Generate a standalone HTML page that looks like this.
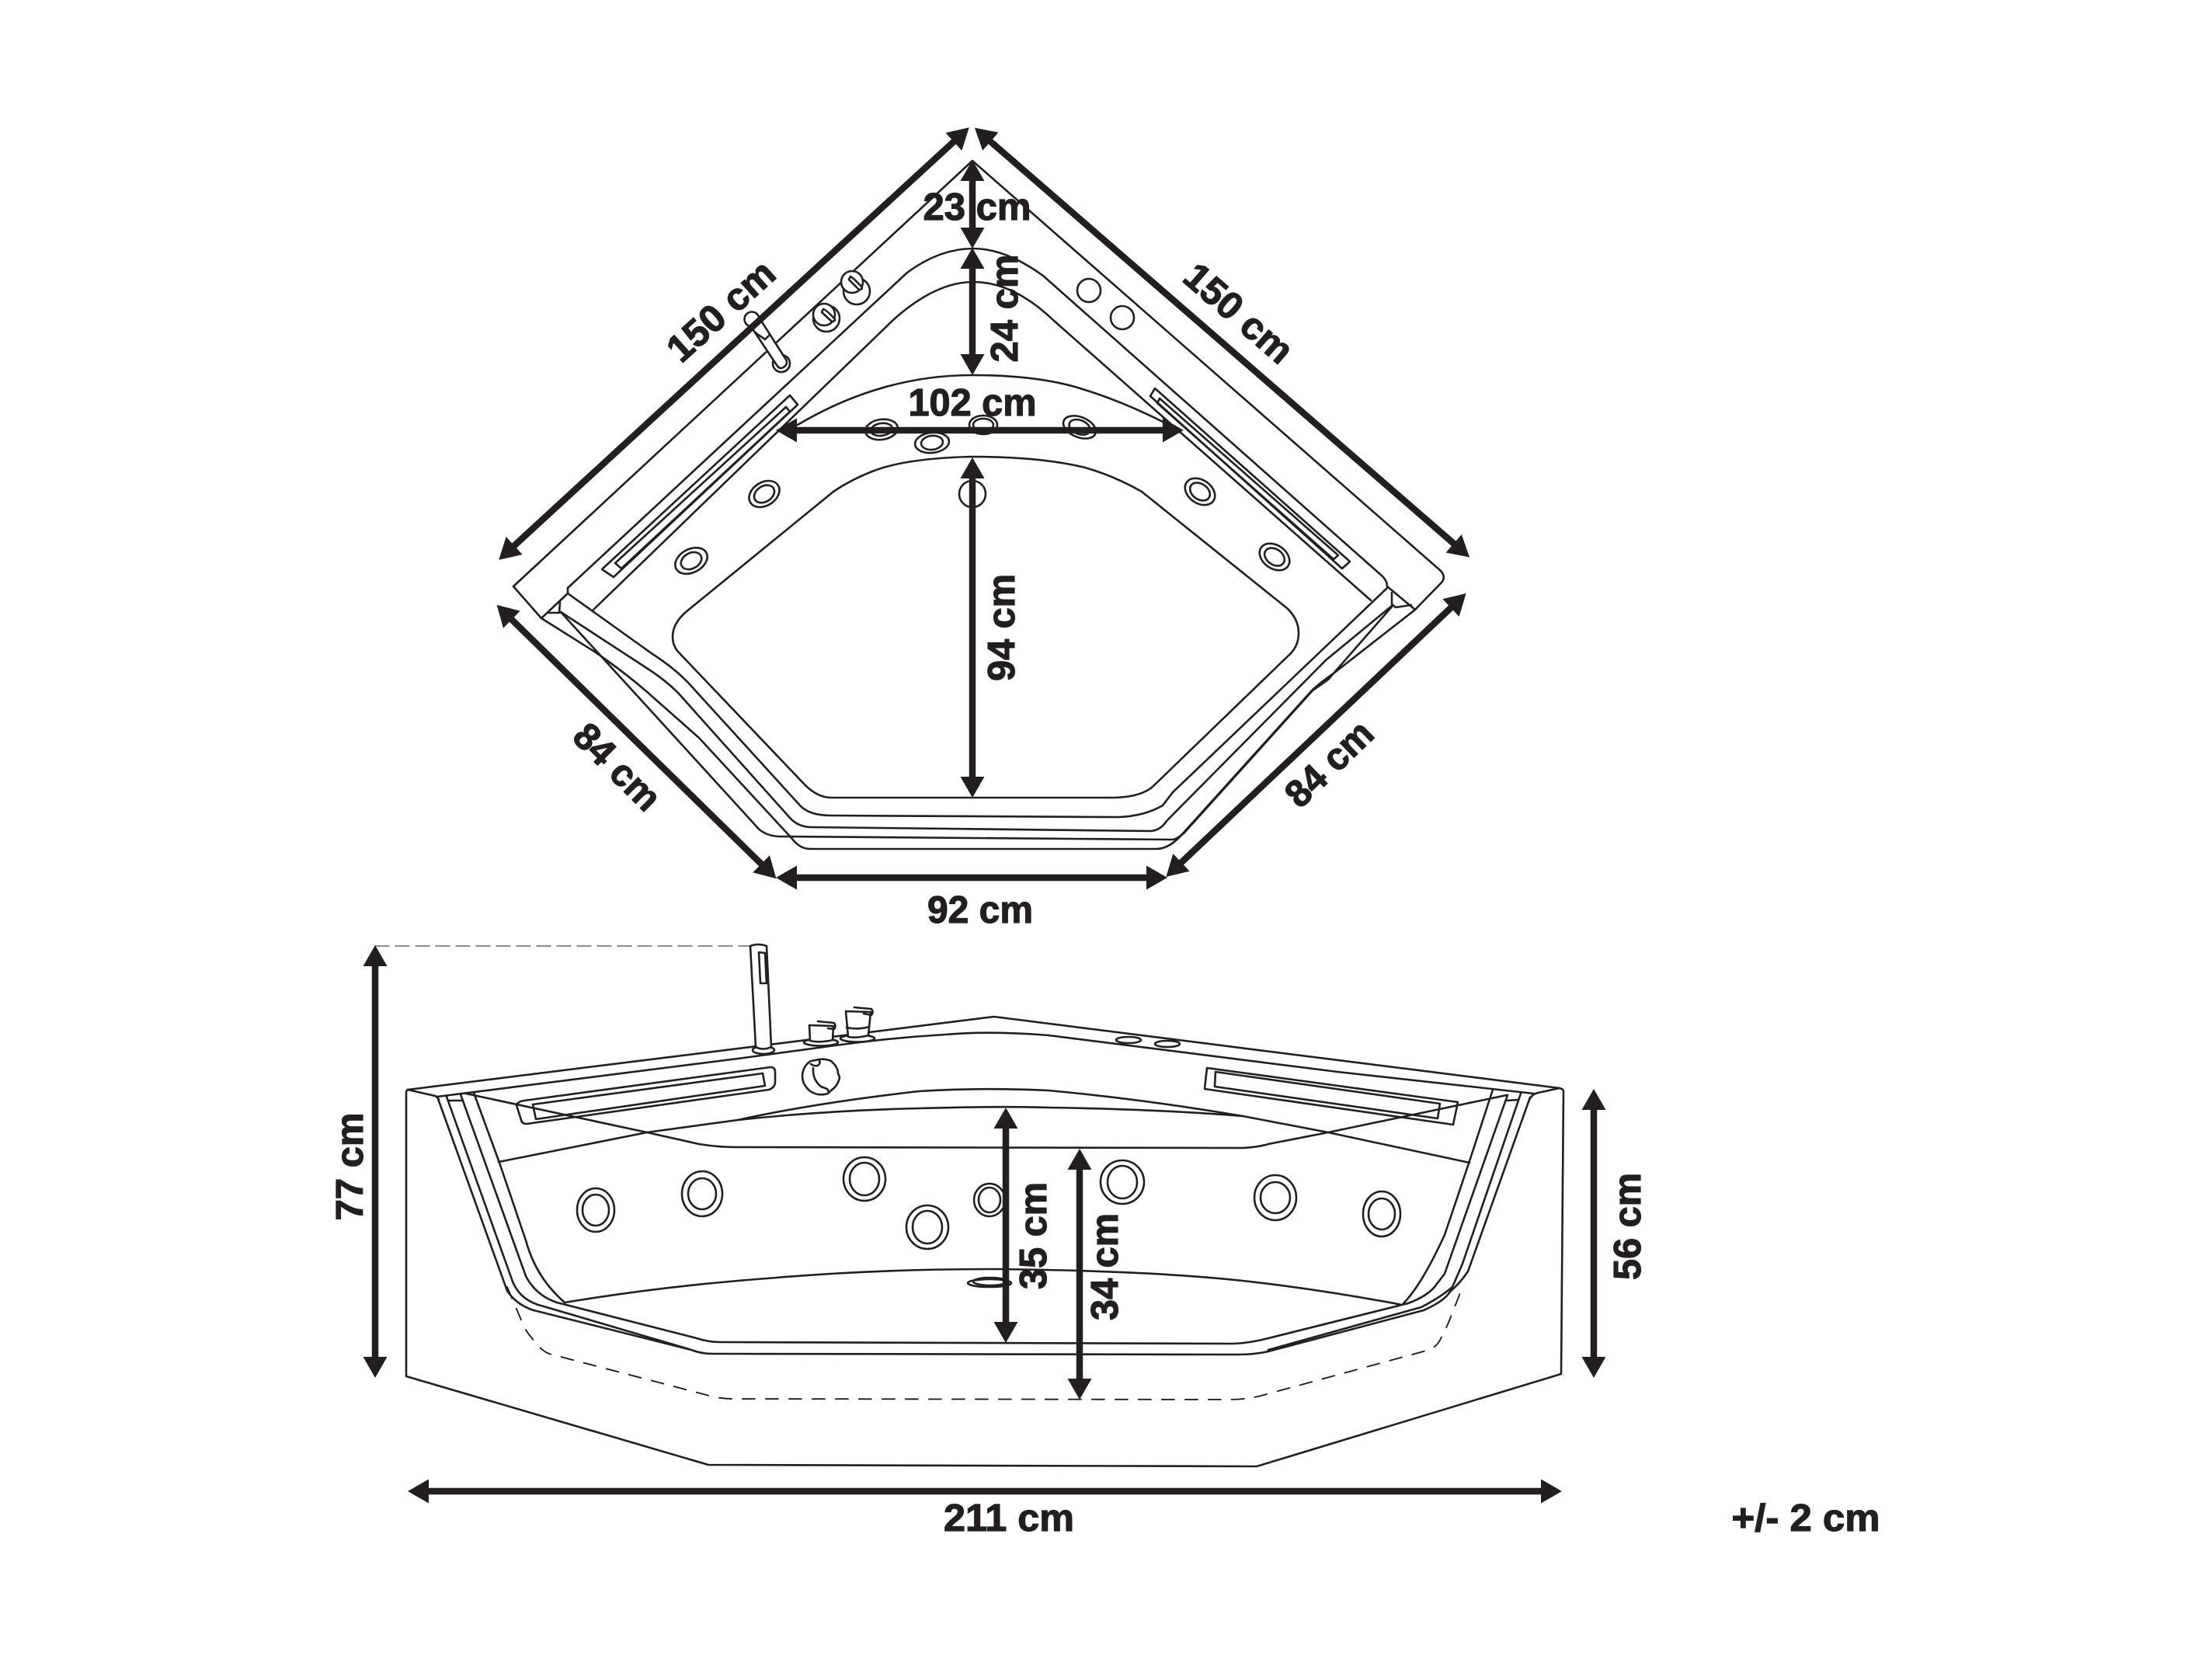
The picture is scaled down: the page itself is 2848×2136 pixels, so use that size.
<!DOCTYPE html>
<html>
<head>
<meta charset="utf-8">
<style>
html,body{margin:0;padding:0;background:#fff}
svg{display:block}
.l{fill:none;stroke:#231f20;stroke-width:2.600;stroke-linejoin:round;stroke-linecap:round}
.a{fill:none;stroke:#231f20;stroke-width:8.500;marker-start:url(#h);marker-end:url(#h)}
text{font-family:"Liberation Sans",sans-serif;font-weight:700;font-size:49px;fill:#231f20;stroke:#231f20;stroke-width:1.200;text-anchor:middle}
</style>
</head>
<body>
<svg width="2848" height="2136" viewBox="0 0 2848 2136" xmlns="http://www.w3.org/2000/svg">
<defs>
<marker id="h" markerUnits="userSpaceOnUse" markerWidth="50" markerHeight="40" viewBox="-20 -20 50 40" refX="0" refY="0" orient="auto-start-reverse">
<path d="M-11,-15.500 L16,0 L-11,15.500 Z" fill="#231f20"/>
</marker>
</defs>
<rect width="2848" height="2136" fill="#fff"/>

<!-- PLAN VIEW -->
<g class="l">
<path d="M661,755 L1252,207 L1855,735 Q1862,743 1856,750 L1822,785"/>
<path d="M661,755 L697,796"/>
<path d="M731,757 L1168,351 Q1210,320 1253,320 Q1295,320 1343,355 L1780,742 Q1786,748 1786,755"/>
<path d="M731,757 L731,764"/>
<path d="M763,786 L1151,411 Q1205,363 1253,363 Q1305,363 1357,413 L1765,773"/>
<path d="M1027,547 Q1135,483 1252,483 Q1340,483 1397,502 Q1445,517 1497,543"/>
<path d="M866,820 Q866,803 883,788 L1073,633 Q1095,618 1123,607 Q1165,590 1252,588 Q1340,588 1397,602 Q1435,613 1470,633 L1657,783 Q1672,797 1672,815 Q1672,832 1660,843 L1485,1012 Q1470,1026 1435,1027 L1069,1027 Q1050,1026 1033,1007 L872,838 Q866,830 866,820 Z"/>
<path d="M731,764 L840,842 Q868,860 887,880 L1030,1037 Q1042,1050 1070,1050 L1440,1052 Q1473,1051 1497,1037 L1510,1020 L1786,757"/>
<path d="M722,788 L837,863 Q858,877 873,892 L1017,1053 Q1028,1065 1045,1065 L1483,1070 Q1495,1068 1502,1057 L1707,850 L1792,780"/>
<path d="M722,788 L973,1063 Q983,1076 1003,1077 L1510,1081 Q1516,1080 1525,1072 L1690,889 Q1700,882 1710,875 L1793,780"/>
<path d="M697,796 L767,840 Q810,870 840,897 L900,950 L1020,1080 Q1030,1093 1043,1093 L1490,1093 Q1507,1092 1523,1073 L1690,888 Q1705,875 1717,867 L1822,785"/>
<path d="M697,796 L731,764"/>
<path d="M705,789 L720,789 L722,788 M721,775 L720,789"/>
<path d="M1786,755 L1822,785"/>
<path d="M1792,763 L1792,778 L1797,782 L1817,779"/>
<!-- slots -->
<path d="M1017,509 L1027,521 L790,743 L775,733 Z"/>
<path d="M1012,524 L1017,530 L800,732 L792,725 Z"/>
<path d="M1487,500 L1738,723 L1728,732 L1481,510 Z"/>
<path d="M1493,513 L1723,715 L1717,720 L1490,519 Z"/>
<!-- jets -->
<ellipse cx="1135" cy="553" rx="21" ry="13" transform="rotate(-8 1135 553)"/>
<ellipse cx="1135" cy="553" rx="14" ry="8" transform="rotate(-8 1135 553)"/>
<ellipse cx="1200" cy="570" rx="22" ry="13" transform="rotate(-6 1200 570)"/>
<ellipse cx="1200" cy="570" rx="14" ry="9" transform="rotate(-6 1200 570)"/>
<ellipse cx="1266" cy="547" rx="18" ry="12"/>
<ellipse cx="1266" cy="547" rx="13" ry="8"/>
<ellipse cx="1390" cy="550" rx="22" ry="13" transform="rotate(22 1390 550)"/>
<ellipse cx="1390" cy="550" rx="14" ry="9" transform="rotate(22 1390 550)"/>
<ellipse cx="984" cy="636" rx="21" ry="15" transform="rotate(-32 984 636)"/>
<ellipse cx="984" cy="636" rx="14" ry="10" transform="rotate(-32 984 636)"/>
<ellipse cx="890" cy="722" rx="22" ry="15" transform="rotate(-28 890 722)"/>
<ellipse cx="890" cy="722" rx="14" ry="10" transform="rotate(-28 890 722)"/>
<ellipse cx="1545" cy="633" rx="21" ry="15" transform="rotate(35 1545 633)"/>
<ellipse cx="1545" cy="633" rx="14" ry="10" transform="rotate(35 1545 633)"/>
<ellipse cx="1641" cy="717" rx="21" ry="15" transform="rotate(35 1641 717)"/>
<ellipse cx="1641" cy="717" rx="14" ry="10" transform="rotate(35 1641 717)"/>
<circle cx="1252" cy="636" r="17"/>
<circle cx="1402" cy="374" r="15"/>
<circle cx="1445" cy="409" r="15"/>
<!-- faucet + knobs -->
<circle cx="1006" cy="468" r="11" fill="#fff"/>
<path d="M968,422 L1000,470 Q1005,478 1012,470 Q1014,466 1012,463 L980,413 Z" fill="#fff"/>
<path d="M972,428 L985,437 L990,432"/>
<circle cx="968" cy="411" r="9.500" fill="#fff"/>
<circle cx="1103" cy="375" r="17" fill="#fff"/>
<circle cx="1097" cy="363" r="14" fill="#fff"/>
<path d="M1095,356 Q1098,357 1110,370 Q1110,373 1106,373 L1093,360 Z" fill="#fff"/>
<circle cx="1064" cy="410" r="17" fill="#fff"/>
<circle cx="1061" cy="405" r="14" fill="#fff"/>
<path d="M1060,398 Q1063,398 1075,411 Q1075,414 1071,414 L1058,402 Z" fill="#fff"/>
</g>

<!-- PLAN ARROWS -->
<line class="a" x1="654" y1="710" x2="1236" y2="175"/>
<line class="a" x1="1267" y1="175" x2="1880" y2="707"/>
<line class="a" x1="651" y1="790" x2="988" y2="1120"/>
<line class="a" x1="1876" y1="775" x2="1513" y2="1118"/>
<line class="a" x1="1015" y1="1130" x2="1487" y2="1130"/>
<line class="a" x1="1252" y1="222" x2="1252" y2="304"/>
<line class="a" x1="1252" y1="335" x2="1252" y2="467"/>
<line class="a" x1="1015" y1="554" x2="1508" y2="554"/>
<line class="a" x1="1252" y1="605" x2="1252" y2="1011"/>

<!-- FRONT VIEW -->
<g class="l">
<path d="M483,1218 L968,1218" style="stroke:#666;stroke-width:1.500" stroke-dasharray="18 8"/>
<path d="M525,1403 Q523,1404 523,1407 L523,1772 L912,1886 L1618,1888 L2010,1769 L2013,1405 Q2013,1402 2008,1401 L1280,1309 L525,1403"/>
<path d="M525,1403 L560,1411 Q563,1412 565,1416"/>
<path d="M2008,1401 L1980,1407 Q1972,1409 1969,1416"/>
<path d="M563,1412 L950,1363 L1083,1345 Q1150,1336 1217,1332 Q1277,1327 1350,1333 L1722,1380 L1975,1408"/>
<path d="M563,1412 L653,1662 Q665,1680 687,1687 L890,1738 Q903,1743 917,1743 L1595,1744 Q1615,1744 1633,1740 L1833,1687 Q1860,1675 1867,1663 Q1880,1652 1890,1637 L1970,1413"/>
<path d="M575,1412 L660,1650 Q670,1675 700,1682 L887,1737"/>
<path d="M1633,1738 L1830,1683 Q1855,1670 1870,1657 L1883,1627 L1958,1408"/>
<path d="M593,1409 L677,1643 Q690,1668 717,1677 L897,1723 Q912,1728 927,1728 L1589,1730 Q1610,1729 1633,1723 L1805,1680 L1813,1678 Q1840,1668 1850,1653 L1860,1640 L1941,1410"/>
<path d="M610,1407 L643,1497 L677,1597 Q690,1645 727,1677"/>
<path d="M1807,1678 Q1830,1655 1860,1590 L1892,1495 L1922,1403"/>
<path d="M577,1417 L595,1417 M1940,1417 L1955,1416"/>
<path d="M642,1496 L833,1458 L950,1442 Q1050,1420 1183,1405 Q1267,1400 1350,1404 Q1470,1415 1600,1437 L1710,1458 L1892,1497"/>
<path d="M950,1442 Q1060,1430 1183,1427 Q1290,1424 1350,1426 Q1490,1428 1600,1437"/>
<path d="M600,1408 L833,1458 L900,1473 Q925,1477 947,1477 L1600,1478 Q1620,1477 1633,1473 L1710,1458 L1940,1410"/>
<path d="M727,1677 Q860,1655 1000,1645 Q1130,1634 1280,1634 Q1480,1636 1600,1649 Q1700,1660 1805,1680"/>
<path d="M653,1657 L670,1697 Q675,1712 685,1723 Q695,1738 707,1743 L917,1798 Q930,1801 942,1801 L1583,1802 Q1600,1802 1620,1798 L1840,1738 Q1848,1735 1853,1727 Q1860,1715 1867,1698 L1883,1657" stroke-dasharray="16 14" style="stroke-width:1.900"/>
<!-- slots -->
<path d="M665,1423 Q667,1418 675,1417 L992,1374 Q998,1374 998,1380 L998,1393 Q998,1400 990,1403 L678,1447 Q672,1447 671,1442 Z"/>
<path d="M686,1422 L982,1382 L985,1398 L690,1441 Z"/>
<path d="M1554,1375 L1877,1419 L1871,1448 L1551,1402 Z"/>
<path d="M1565,1380 L1854,1421 L1851,1440 L1564,1399 Z"/>
<!-- jets -->
<ellipse cx="767" cy="1558" rx="24" ry="28"/><ellipse cx="767" cy="1558" rx="17" ry="20"/>
<ellipse cx="904" cy="1537" rx="26" ry="29"/><ellipse cx="904" cy="1537" rx="18" ry="20"/>
<ellipse cx="1113" cy="1518" rx="27" ry="28"/><ellipse cx="1113" cy="1518" rx="19" ry="21"/>
<ellipse cx="1194" cy="1580" rx="27" ry="28"/><ellipse cx="1194" cy="1580" rx="19" ry="21"/>
<ellipse cx="1274" cy="1545" rx="20" ry="21"/><ellipse cx="1274" cy="1545" rx="14" ry="16"/>
<ellipse cx="1445" cy="1522" rx="28" ry="28"/><ellipse cx="1445" cy="1522" rx="19" ry="21"/>
<ellipse cx="1642" cy="1542" rx="27" ry="29"/><ellipse cx="1642" cy="1542" rx="19" ry="20"/>
<ellipse cx="1779" cy="1563" rx="24" ry="29"/><ellipse cx="1779" cy="1563" rx="17" ry="20"/>
<ellipse cx="1274" cy="1652" rx="28" ry="5"/><ellipse cx="1275" cy="1650" rx="22" ry="5"/>
<!-- faucet front -->
<ellipse cx="983" cy="1352" rx="14" ry="5" fill="#fff"/>
<path d="M966,1218 Q976,1214 987,1218 L993,1348 Q982,1353 973,1348 Z" fill="#fff"/>
<path d="M977,1226 L985,1227 L987,1266 L979,1266 Z"/>
<!-- knobs -->
<ellipse cx="1057" cy="1342" rx="22" ry="4.500" fill="#fff"/>
<path d="M1042,1320 L1073,1321 L1072,1339 Q1056,1343 1043,1340 Z" fill="#fff"/>
<path d="M1053,1315 L1074,1317 Q1077,1321 1074,1325 L1066,1324"/>
<ellipse cx="1104" cy="1337" rx="22" ry="4.500" fill="#fff"/>
<path d="M1089,1302 L1121,1303 L1118,1333 Q1104,1337 1092,1335 Z" fill="#fff"/>
<path d="M1090,1323 Q1105,1326 1119,1322"/>
<path d="M1100,1297 L1122,1299 Q1125,1303 1122,1307 L1112,1305"/>
<path d="M1050,1365 Q1060,1362 1070,1366 Q1079,1374 1079,1382 L1081,1387 Q1079,1398 1070,1404 L1066,1408 Q1052,1412 1042,1404 Q1033,1396 1033,1385 Q1034,1372 1044,1366 Z"/>
<path d="M1044,1370 Q1048,1373 1053,1372 Q1057,1368 1055,1366 M1047,1375 Q1046,1390 1057,1399 L1065,1402 L1067,1406"/>
<ellipse cx="1453" cy="1339" rx="16" ry="4"/>
<ellipse cx="1503" cy="1344" rx="16" ry="4"/>
</g>

<!-- FRONT ARROWS -->
<line class="a" x1="483" y1="1233" x2="483" y2="1758"/>
<line class="a" x1="1295" y1="1442" x2="1295" y2="1713"/>
<line class="a" x1="1390" y1="1495" x2="1390" y2="1786"/>
<line class="a" x1="2052" y1="1418" x2="2052" y2="1758"/>
<line class="a" x1="541" y1="1920" x2="1995" y2="1920"/>

<!-- LABELS -->
<g>
<text transform="translate(928 400) rotate(-42)" y="17" textLength="168" lengthAdjust="spacingAndGlyphs">150 cm</text>
<text transform="translate(1595 403) rotate(41)" y="17" textLength="168" lengthAdjust="spacingAndGlyphs">150 cm</text>
<text transform="translate(795 987) rotate(45)" y="17" textLength="136" lengthAdjust="spacingAndGlyphs">84 cm</text>
<text transform="translate(1711 983) rotate(-44)" y="17" textLength="136" lengthAdjust="spacingAndGlyphs">84 cm</text>
<text x="1262" y="1188" textLength="136" lengthAdjust="spacingAndGlyphs">92 cm</text>
<text x="1258" y="283" textLength="139" lengthAdjust="spacingAndGlyphs">23 cm</text>
<text transform="translate(1310 397) rotate(-90)" textLength="139" lengthAdjust="spacingAndGlyphs">24 cm</text>
<text x="1252" y="535" textLength="165" lengthAdjust="spacingAndGlyphs">102 cm</text>
<text transform="translate(1306 808) rotate(-90)" textLength="138" lengthAdjust="spacingAndGlyphs">94 cm</text>
<text transform="translate(467 1502) rotate(-90)" textLength="139" lengthAdjust="spacingAndGlyphs">77 cm</text>
<text transform="translate(1347 1591) rotate(-90)" textLength="138" lengthAdjust="spacingAndGlyphs">35 cm</text>
<text transform="translate(1439 1631) rotate(-90)" textLength="138" lengthAdjust="spacingAndGlyphs">34 cm</text>
<text transform="translate(2112 1579) rotate(-90)" textLength="138" lengthAdjust="spacingAndGlyphs">56 cm</text>
<text x="1299" y="1971" textLength="168" lengthAdjust="spacingAndGlyphs">211 cm</text>
<text x="2325" y="1971" textLength="191" lengthAdjust="spacingAndGlyphs">+/- 2 cm</text>
</g>
</svg>
</body>
</html>
